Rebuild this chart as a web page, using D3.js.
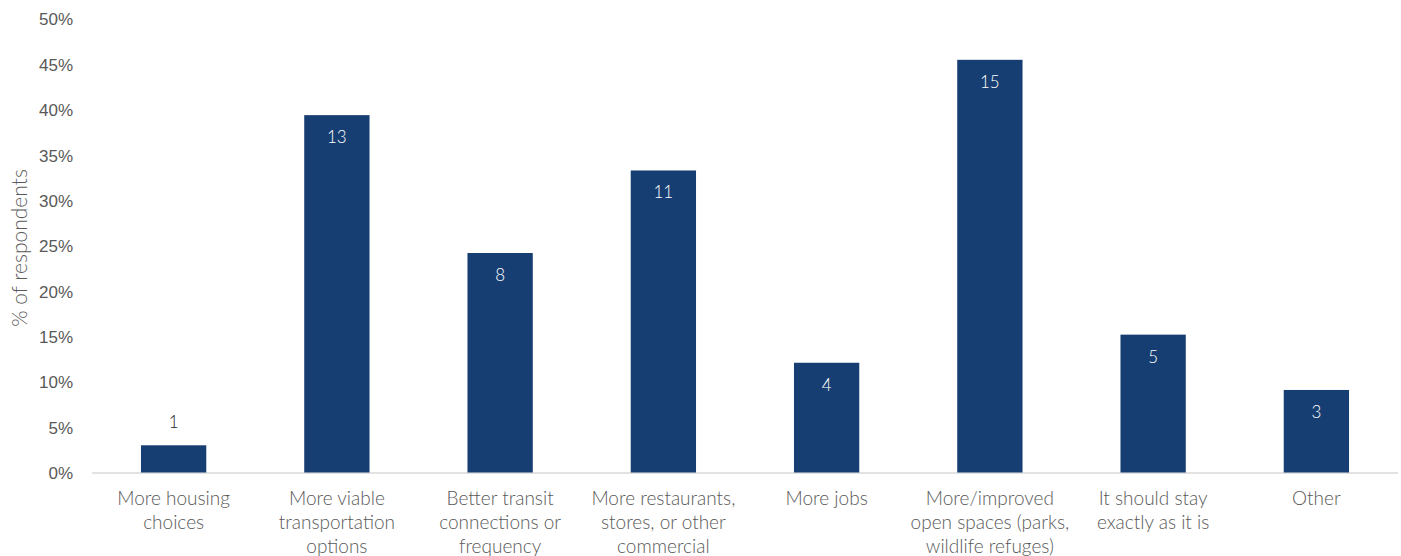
<!DOCTYPE html>
<html>
<head>
<meta charset="utf-8">
<script src="https://cdn.jsdelivr.net/npm/d3@7"></script>
<style>
  body{margin:0;background:#fff;}
  svg{display:block;font-family:Lato,"Open Sans",sans-serif;font-weight:300;}
  .tick text{fill:#595959;font-size:17px;}
  .cat{fill:#595959;font-size:19px;}
</style>
</head>
<body>
<svg id="chart" width="1401" height="556"></svg>
<script>
// categories (each split into lines as in the picture)
var categories=[
  ["More housing","choices"],
  ["More viable","transportation","options"],
  ["Better transit","connections or","frequency"],
  ["More restaurants,","stores, or other","commercial"],
  ["More jobs"],
  ["More/improved","open spaces (parks,","wildlife refuges)"],
  ["It should stay","exactly as it is"],
  ["Other"]
];
// % of respondents
var percents=[3.0,39.4,24.2,33.3,12.1,45.5,15.2,9.1];
// respondent counts shown on the bars
var counts=[1,13,8,11,4,15,5,3];
var yTicks=[0,5,10,15,20,25,30,35,40,45,50];

var margin={top:19,right:3,bottom:83,left:92};
var W=1401,H=556;
var svg=d3.select("#chart");

var x=d3.scaleBand()
  .domain(d3.range(categories.length))
  .range([margin.left,W-margin.right])
  .paddingInner(0.6).paddingOuter(0.3);
var y=d3.scaleLinear().domain([0,50]).range([H-margin.bottom-0.5,margin.top]);

// y axis (labels only)
var ya=svg.append("g")
  .attr("transform","translate("+(margin.left-12)+",0)")
  .call(d3.axisLeft(y).tickValues(yTicks).tickSize(0).tickPadding(7).tickFormat(function(d){return d+"%";}));
ya.select(".domain").remove();
ya.selectAll("text").attr("dy","0.35em");

// baseline
svg.append("line")
  .attr("x1",margin.left).attr("x2",W-margin.right)
  .attr("y1",y(0)+0.5).attr("y2",y(0)+0.5)
  .attr("stroke","#d9d9d9").attr("stroke-width",1.5);

// bars
svg.selectAll("rect.bar").data(percents).enter().append("rect")
  .attr("class","bar")
  .attr("x",function(d,i){return x(i);})
  .attr("width",x.bandwidth())
  .attr("y",function(d){return y(d);})
  .attr("height",function(d){return y(0)-y(d);})
  .attr("fill","#173e72");

// value labels
svg.selectAll("text.val").data(counts).enter().append("text")
  .attr("class","val")
  .attr("x",function(d,i){return x(i)+x.bandwidth()/2;})
  .attr("y",function(d,i){
    var top=y(percents[i]);
    return (y(0)-top<40) ? top-17 : top+28;
  })
  .attr("text-anchor","middle")
  .attr("font-size","17px")
  .attr("fill",function(d,i){return (y(0)-y(percents[i])<40)?"#262626":"#fff";})
  .text(function(d){return d;});

// category labels
var cg=svg.selectAll("text.cat").data(categories).enter().append("text")
  .attr("class","cat")
  .attr("text-anchor","middle")
  .attr("x",function(d,i){return x(i)+x.bandwidth()/2;})
  .attr("y",505);
cg.selectAll("tspan").data(function(d){return d;}).enter().append("tspan")
  .attr("x",function(){return d3.select(this.parentNode).attr("x");})
  .attr("dy",function(d,i){return i==0?0:24;})
  .text(function(d){return d;});

// y axis title
svg.append("text")
  .attr("transform","translate(27,"+248+") rotate(-90)")
  .attr("text-anchor","middle")
  .attr("font-size","21px")
  .attr("fill","#595959")
  .text("% of respondents");
</script>
</body>
</html>
